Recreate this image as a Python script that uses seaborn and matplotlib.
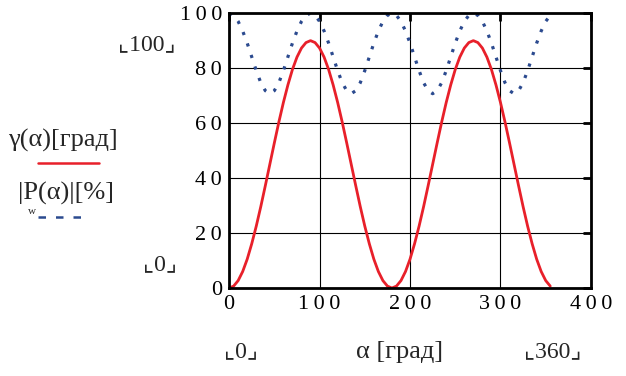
import numpy as np
import pandas as pd
import matplotlib
matplotlib.use('Agg')
import matplotlib.pyplot as plt
import seaborn as sns

# angle alpha, degrees (5 degree step)
alpha = list(range(0, 360, 5))

# gamma(alpha) [grad]
gamma = [0, 0.7, 2.7, 6.0, 10.5, 16.1, 22.5, 29.6, 37.2, 45.0, 52.8, 60.4,
         67.5, 73.9, 79.5, 84.0, 87.3, 89.3, 90.0, 89.3, 87.3, 84.0, 79.5, 73.9,
         67.5, 60.4, 52.8, 45.0, 37.2, 29.6, 22.5, 16.1, 10.5, 6.0, 2.7, 0.7,
         0, 0.7, 2.7, 6.0, 10.5, 16.1, 22.5, 29.6, 37.2, 45.0, 52.8, 60.4,
         67.5, 73.9, 79.5, 84.0, 87.3, 89.3, 90.0, 89.3, 87.3, 84.0, 79.5, 73.9,
         67.5, 60.4, 52.8, 45.0, 37.2, 29.6, 22.5, 16.1, 10.5, 6.0, 2.7, 0.7]

# |P_w(alpha)| [%]
p_w = [100, 99.2, 97.0, 93.5, 89.1, 84.1, 79.1, 74.7, 71.8, 70.7, 71.8, 74.7,
       79.1, 84.1, 89.1, 93.5, 97.0, 99.2, 100, 99.2, 97.0, 93.5, 89.1, 84.1,
       79.1, 74.7, 71.8, 70.7, 71.8, 74.7, 79.1, 84.1, 89.1, 93.5, 97.0, 99.2,
       100, 99.2, 97.0, 93.5, 89.1, 84.1, 79.1, 74.7, 71.8, 70.7, 71.8, 74.7,
       79.1, 84.1, 89.1, 93.5, 97.0, 99.2, 100, 99.2, 97.0, 93.5, 89.1, 84.1,
       79.1, 74.7, 71.8, 70.7, 71.8, 74.7, 79.1, 84.1, 89.1, 93.5, 97.0, 99.2]

x_ticks = [0, 100, 200, 300, 400]
y_ticks = [0, 20, 40, 60, 80, 100]

df = pd.DataFrame({'alpha': alpha, 'gamma': gamma, 'P': p_w})

sns.set_style('white')
plt.rcParams['font.family'] = ['Liberation Serif', 'DejaVu Serif', 'DejaVu Sans']

fig = plt.figure(figsize=(6.26, 3.76), dpi=100)
ax = fig.add_axes([0.366, 0.234, 0.578, 0.731])

red = '#e8202a'
blue = '#2b4a8f'
sns.lineplot(data=df, x='alpha', y='gamma', ax=ax, color=red, lw=2)
sns.lineplot(data=df, x='alpha', y='P', ax=ax, color=blue, lw=2.3,
             linestyle=(0, (1, 2.8)), dash_capstyle='butt')

def spaced(v):
    return '\u2009'.join(str(v))

ax.set_xlim(0, 400)
ax.set_ylim(0, 100)
ax.set_xticks(x_ticks)
ax.set_yticks(y_ticks)
ax.set_xticklabels([spaced(t) for t in x_ticks], fontsize=16)
ax.set_yticklabels([spaced(t) for t in y_ticks], fontsize=16)
ax.grid(True, color='black', lw=0.8)
ax.tick_params(direction='in', length=6, width=2, top=True, right=True,
               pad=5, colors='black')
for s in ax.spines.values():
    s.set_color('black')
    s.set_linewidth(2)
ax.set_xlabel('')
ax.set_ylabel('')

# Mathcad style labels
fig.text(63 / 626, 1 - 140 / 376, 'γ(α)[град]', fontsize=19, ha='center', va='center')
fig.add_artist(plt.Line2D([38 / 626, 99 / 626], [1 - 163 / 376] * 2, color=red, lw=1.8))
fig.text(66 / 626, 1 - 193 / 376, '|P(α)|[%]', fontsize=19, ha='center', va='center')
fig.text(32 / 626, 1 - 211 / 376, 'w', fontsize=8, ha='center', va='center')
fig.add_artist(plt.Line2D([38 / 626, 88 / 626], [1 - 217 / 376] * 2, color=blue,
                          lw=1.8, linestyle=(0, (3, 4))))

fig.text(147 / 626, 1 - 45 / 376, '⌞100⌟', fontsize=17, ha='center', va='center')
fig.text(160 / 626, 1 - 265 / 376, '⌞0⌟', fontsize=17, ha='center', va='center')
fig.text(241 / 626, 1 - 352 / 376, '⌞0⌟', fontsize=17, ha='center', va='center')
fig.text(400 / 626, 1 - 352 / 376, 'α [град]', fontsize=19, ha='center', va='center')
fig.text(553 / 626, 1 - 352 / 376, '⌞360⌟', fontsize=17, ha='center', va='center')

fig.savefig('out.png', dpi=100)
